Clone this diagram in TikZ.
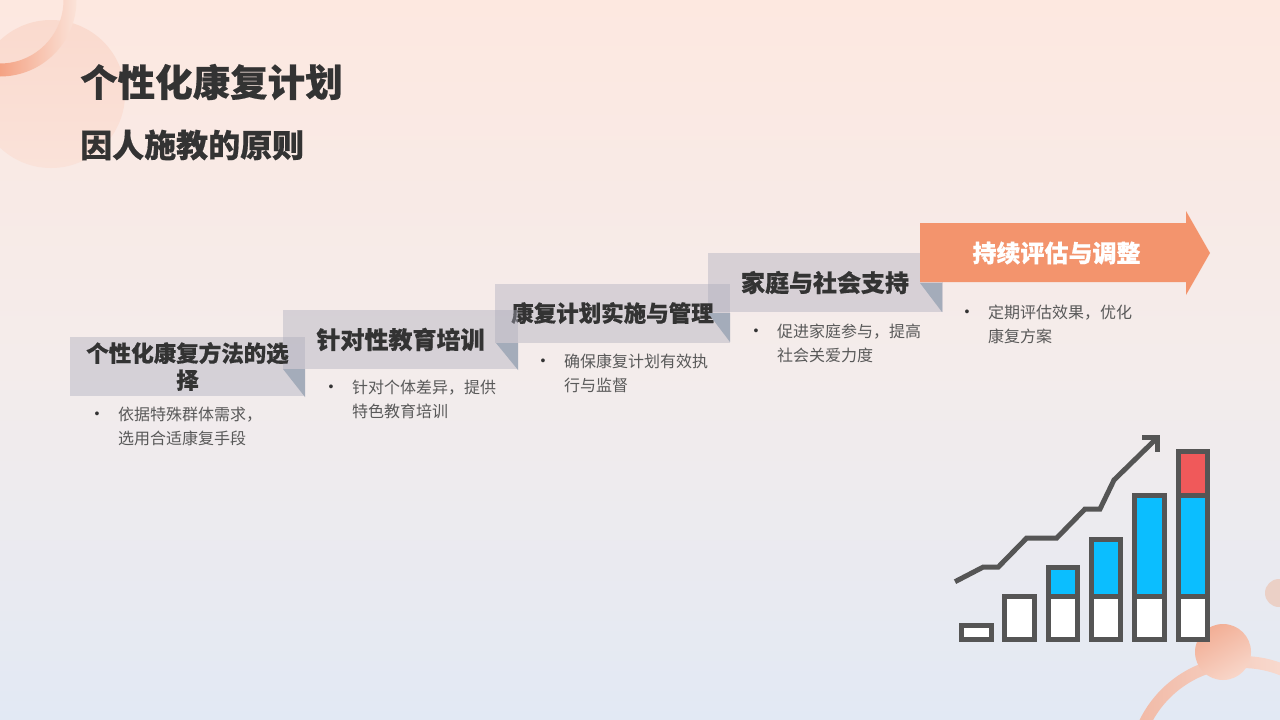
\documentclass[tikz,border=0pt]{standalone}
\usepackage{fontspec}
\setmainfont[BoldFeatures={FakeBold=0.5}]{Noto Sans CJK SC}
\newfontfamily\dotfont{Liberation Sans}
\usepackage{tikz}
\definecolor{bgtop}{HTML}{FDE8E0}
\definecolor{bgmid}{HTML}{F4ECEB}
\definecolor{bgbot}{HTML}{E2E9F4}
\definecolor{inkdark}{HTML}{333333}
\definecolor{inkbody}{HTML}{595959}
\definecolor{barline}{HTML}{555555}
\definecolor{barblue}{HTML}{0BBEFF}
\definecolor{barred}{HTML}{F0595A}
\definecolor{stepgray}{HTML}{A9A9BA}
\definecolor{foldgray}{HTML}{A4ACBA}
\definecolor{orangefill}{HTML}{F3946D}
\definecolor{discA}{HTML}{FADACE}
\definecolor{discB}{HTML}{FAE2D9}
\definecolor{ringA}{HTML}{F4A283}
\definecolor{ringB}{HTML}{FBE3D9}
\definecolor{arcA}{HTML}{F1B8A4}
\definecolor{arcB}{HTML}{FBE9E2}
\definecolor{dotA}{HTML}{F2AE95}
\definecolor{dotB}{HTML}{F8D6C9}
\definecolor{dotC}{HTML}{EBD0C6}
\newcommand{\steplabel}[1]{\raisebox{-1pt}{#1}}

\begin{document}
\begin{tikzpicture}[x=1pt,y=-1pt]
\tikzstyle{stepbox}=[fill=stepgray,fill opacity=0.4,text opacity=1,text=inkdark,font=\bfseries\fontsize{24}{28}\selectfont,align=center,inner sep=0pt,minimum width=235pt,minimum height=59pt]
\tikzstyle{fold}=[fill=foldgray]
\tikzstyle{bodytext}=[text=inkbody,font=\fontsize{16}{24}\selectfont,align=left,anchor=west,inner sep=0pt]
\tikzstyle{dotmark}=[text=inkdark,font=\dotfont\fontsize{14}{24}\selectfont,inner sep=0pt]
\tikzstyle{bar}=[draw=barline,line width=5pt,fill=white]
\useasboundingbox (0,0) rectangle (1280,720);
\clip (0,0) rectangle (1280,720);
% background
\shade[top color=bgtop,bottom color=bgbot,middle color=bgmid] (0,0) rectangle (1280,720);
% corner decoration
\shade[top color=discA,bottom color=discB] (51,94) circle (74);
\shade[left color=ringA,right color=ringB] (0,76.5) arc[start angle=90,end angle=0,radius=76.5] -- (63.5,0) arc[start angle=0,end angle=90,radius=63.5] -- cycle;
\shade[even odd rule,left color=arcA,right color=arcB] (1242,770) circle (114) (1242,770) circle (102);
\shade[top color=dotA,bottom color=dotB,shading angle=30] (1223,652) circle (28);
\fill[dotC] (1279,593) circle (14);
% titles
\node[anchor=west,inner sep=0pt,text=inkdark,font=\bfseries\fontsize{37.5}{40}\selectfont] (title) at (80,82) {个性化康复计划};
\node[anchor=west,inner sep=0pt,text=inkdark,font=\bfseries\fontsize{32}{36}\selectfont] (subtitle) at (80,145) {因人施教的原则};
% steps
\node[stepbox] (step4) at (825,282.5) {\steplabel{家庭与社会支持}};
\fill[fold] (920,283) -- (942,283) -- (942,312) -- cycle;
\fill[orangefill] (920,223) -- (1186,223) -- (1186,211) -- (1210,253) -- (1186,295) -- (1186,282) -- (920,282) -- cycle;
\node[text=white,font=\bfseries\fontsize{24}{28}\selectfont,inner sep=0pt] (step5) at (1056.5,253) {持续评估与调整};
\node[stepbox,font=\bfseries\fontsize{22.5}{28}\selectfont] (step3) at (612.5,313) {\steplabel{康复计划实施与管理}};
\fill[fold] (708,313) -- (730,313) -- (730,342) -- cycle;
\node[stepbox] (step2) at (400.5,339.5) {\steplabel{针对性教育培训}};
\fill[fold] (496,343) -- (518,343) -- (518,370) -- cycle;
\node[stepbox,font=\bfseries\fontsize{22.5}{27}\selectfont] (step1) at (187.5,366.5) {\steplabel{个性化康复方法的选}\\\steplabel{择}};
\fill[fold] (283,369) -- (305,369) -- (305,397) -- cycle;
% step texts
\node[dotmark] (dot1) at (97,415) {•};
\node[bodytext] (text1) at (118,426.5) {依据特殊群体需求，\\选用合适康复手段};
\node[dotmark] (dot2) at (331,388) {•};
\node[bodytext] (text2) at (352,399) {针对个体差异，提供\\特色教育培训};
\node[dotmark] (dot3) at (543,362) {•};
\node[bodytext] (text3) at (564,373) {确保康复计划有效执\\行与监督};
\node[dotmark] (dot4) at (756,332) {•};
\node[bodytext] (text4) at (777,343) {促进家庭参与，提高\\社会关爱力度};
\node[dotmark] (dot5) at (967,313) {•};
\node[bodytext] (text5) at (988,324) {定期评估效果，优化\\康复方案};
% chart
\draw[bar] (961.5,625) rectangle (991,639.5);
\draw[bar] (1004.8,596.2) rectangle (1034.2,639.5);
\draw[bar] (1048.2,596.2) rectangle (1077.5,639.5);
\draw[bar,fill=barblue] (1048.2,567.5) rectangle (1077.5,596.2);
\draw[bar] (1091.5,596.2) rectangle (1120.8,639.5);
\draw[bar,fill=barblue] (1091.5,539) rectangle (1120.8,596.2);
\draw[bar] (1134.8,596.2) rectangle (1164.2,639.5);
\draw[bar,fill=barblue] (1134.8,495.2) rectangle (1164.2,596.2);
\draw[bar] (1178.2,596.2) rectangle (1207.5,639.5);
\draw[bar,fill=barblue] (1178.2,495.2) rectangle (1207.5,596.2);
\draw[bar,fill=barred] (1178.2,451.8) rectangle (1207.5,495.2);
\draw[barline,line width=5pt] (955,581.7) -- (983.3,567) -- (998.3,567) -- (1026.7,538) -- (1056.7,538) -- (1085,509) -- (1100,509) -- (1114,480) -- (1156.7,438.3);
\draw[barline,line width=5pt] (1142.3,437.5) -- (1157.5,437.5) -- (1157.5,452);
\end{tikzpicture}
\end{document}
